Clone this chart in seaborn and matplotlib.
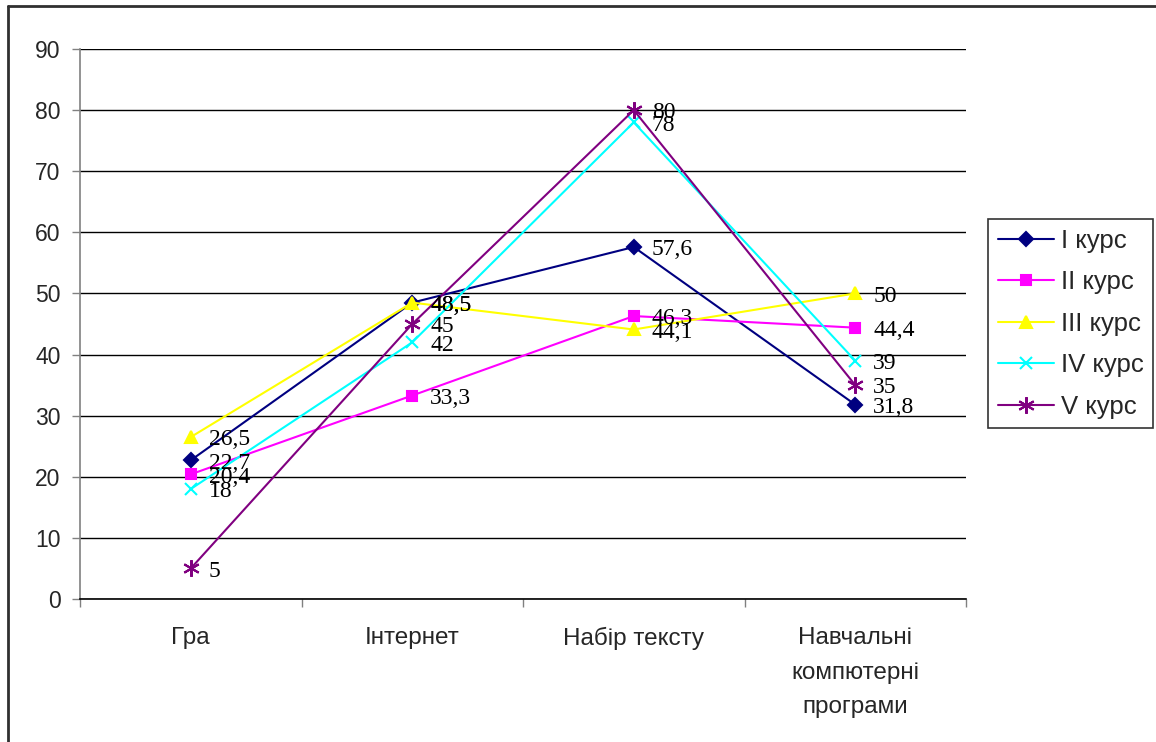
import matplotlib
matplotlib.use("Agg")
import matplotlib.pyplot as plt
from matplotlib.lines import Line2D
from matplotlib.ticker import FixedLocator, NullFormatter
import seaborn as sns
import pandas as pd

# Survey results: share of students (%) by activity and year of study
categories = ["Гра", "Інтернет", "Набір тексту", "Навчальні\nкомпютерні\nпрограми"]
series_names = ["I курс", "II курс", "III курс", "IV курс", "V курс"]
course_1 = [22.7, 48.5, 57.6, 31.8]
course_2 = [20.4, 33.3, 46.3, 44.4]
course_3 = [26.5, 48.5, 44.1, 50.0]
course_4 = [18.0, 42.0, 78.0, 39.0]
course_5 = [5.0, 45.0, 80.0, 35.0]
y_ticks = [0, 10, 20, 30, 40, 50, 60, 70, 80, 90]

values = [course_1, course_2, course_3, course_4, course_5]
colors = ["#000080", "#FF00FF", "#FFFF00", "#00FFFF", "#800080"]
markers = ["D", "s", "^", "x", (6, 2, 0)]
msizes = [7, 7, 9, 9, 12]

sns.set_theme(style="white")
plt.rcParams["font.family"] = ["Liberation Sans", "DejaVu Sans"]

fig = plt.figure(figsize=(11.56, 7.42), dpi=100)
ax = fig.add_axes([80 / 1156, 1 - 599 / 742, 886 / 1156, 550 / 742])

xpos = list(range(len(categories)))
rows = []
for name, vals in zip(series_names, values):
    for x, v in zip(xpos, vals):
        rows.append({"x": x, "value": v, "series": name})
df = pd.DataFrame(rows)

for name, col, mk, ms in zip(series_names, colors, markers, msizes):
    sub = df[df["series"] == name]
    sns.lineplot(data=sub, x="x", y="value", ax=ax, color=col, marker=mk,
                 markersize=ms, markeredgecolor=col, markerfacecolor=col,
                 markeredgewidth=1.5, linewidth=1.5, label=name, zorder=3)

# value labels beside each point
for name, vals in zip(series_names, values):
    for x, v in zip(xpos, vals):
        txt = f"{v:g}".replace(".", ",")
        ax.annotate(txt, (x, v), xytext=(13, -2), textcoords="offset points",
                    ha="left", va="center", fontsize=17,
                    family="Liberation Serif", color="black", zorder=4)

ax.set_xlim(-0.5, len(categories) - 0.5)
ax.set_ylim(0, 90)
ax.set_yticks(y_ticks)
ax.set_xticks(xpos)
ax.set_xticklabels(categories, fontsize=17.5, linespacing=1.75)
ax.tick_params(axis="x", which="major", length=0, pad=20)
ax.xaxis.set_minor_locator(FixedLocator([i - 0.5 for i in range(len(categories) + 1)]))
ax.xaxis.set_minor_formatter(NullFormatter())
ax.tick_params(axis="x", which="minor", length=6, width=1, color="#808080",
               direction="out", bottom=True)
ax.tick_params(axis="y", labelsize=16.5, length=6, width=1, color="#808080",
               direction="out", left=True, pad=8)
ax.set_xlabel("")
ax.set_ylabel("")

ax.yaxis.grid(True, color="black", linewidth=1)
ax.xaxis.grid(False)
ax.set_axisbelow(True)
for side in ["top", "right"]:
    ax.spines[side].set_visible(False)
ax.spines["left"].set_color("#808080")
ax.spines["left"].set_linewidth(1.2)
ax.spines["bottom"].set_color("black")
ax.spines["bottom"].set_linewidth(1.2)

leg = ax.legend(loc="upper left", bbox_to_anchor=(988 / 1156, 1 - 219 / 742),
                bbox_transform=fig.transFigure, frameon=True, fancybox=False,
                fontsize=18.5, handlelength=2.18, labelspacing=0.68,
                borderpad=0.38, handletextpad=0.27, borderaxespad=0)
leg.get_frame().set_edgecolor("black")
leg.get_frame().set_linewidth(1.2)

# outer frame of the chart area
fig.add_artist(Line2D([8 / 1156, 8 / 1156], [0, 1 - 6 / 742],
                      transform=fig.transFigure, color="#303030", linewidth=2))
fig.add_artist(Line2D([8 / 1156, 1], [1 - 6 / 742, 1 - 6 / 742],
                      transform=fig.transFigure, color="#303030", linewidth=2))

fig.savefig("out.png", dpi=100, facecolor="white")
